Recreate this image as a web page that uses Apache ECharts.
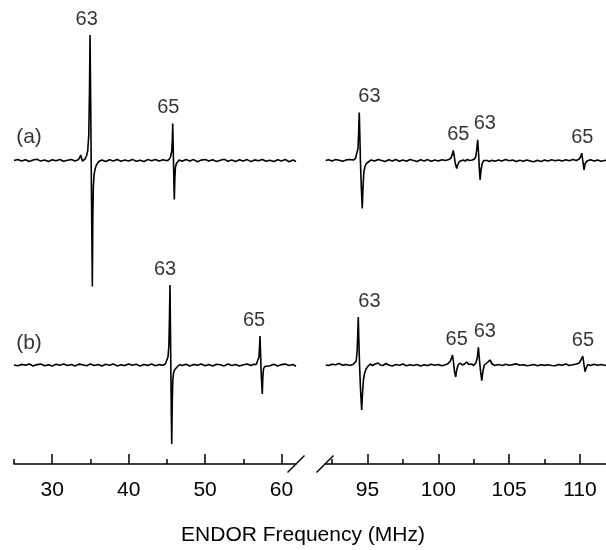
<!DOCTYPE html>
<html>
<head>
<meta charset="utf-8">
<script src="https://cdn.jsdelivr.net/npm/echarts@6/dist/echarts.min.js"></script>
<style>
html,body{margin:0;padding:0;background:#fff;}
#chart{width:606px;height:550px;}
</style>
</head>
<body>
<div id="chart"></div>
<script>
// ---- data (frequency MHz, intensity in arbitrary units; baseline 0) ----
var traceNames = ['(a)', '(b)'];
var leftTicksMajor = [30, 40, 50, 60];
var leftTicksMinor = [25, 35, 45, 55];
var rightTicksMajor = [95, 100, 105, 110];
var rightTicksMinor = [92.5, 97.5, 102.5, 107.5];
var axisTitle = 'ENDOR Frequency (MHz)';

var leftA = [[25.0,0],[25.5,1],[26.0,-0.5],[26.5,0.8],[27.0,-1],[27.5,0.5],[28.0,1.2],[28.5,-0.6],[29.0,0.4],[29.5,-1],[30.0,0.8],[30.5,-0.3],[31.0,1],[31.5,-0.8],[32.0,0.2],[32.5,1],[33.0,-0.5],[33.4,0.8],[33.6,3],[33.73,5.5],[33.85,2],[33.95,-0.5],[34.1,-1],[34.3,1.5],[34.5,5],[34.65,10],[34.78,25],[34.88,70],[34.95,125.5],[35.02,70],[35.1,0],[35.18,-70],[35.25,-126],[35.31,-60],[35.38,-26],[35.48,-14],[35.6,-9],[35.75,-5],[35.9,-3],[36.1,-1],[36.5,0.5],[37.0,-1],[37.5,0.8],[38.0,-0.5],[38.5,1],[39.0,-0.8],[39.5,0.6],[40.0,-0.4],[40.5,1.1],[41.0,-0.7],[41.5,0.3],[42.0,-1],[42.5,0.9],[43.0,-0.2],[43.5,1],[44.0,-0.6],[44.5,0.7],[45.0,-0.3],[45.3,1],[45.5,4],[45.65,10],[45.72,22],[45.77,37],[45.83,15],[45.88,-5],[45.93,-25],[45.98,-39],[46.04,-20],[46.12,-7],[46.25,-3],[46.4,-1],[46.6,0.5],[47.0,-0.8],[47.5,1],[48.0,-0.5],[48.5,0.9],[49.0,-1.2],[49.5,0.4],[50.0,1],[50.5,-0.6],[51.0,0.8],[51.5,-1],[52.0,0.3],[52.5,1.2],[53.0,-0.7],[53.5,0.5],[54.0,-1],[54.5,0.8],[55.0,-0.4],[55.5,0.9],[56.0,-1.1],[56.5,0.6],[57.0,-0.3],[57.5,1],[58.0,-0.8],[58.5,0.2],[59.0,-1],[59.5,0.7],[60.0,-0.5],[60.5,1],[61.0,-1.2],[61.5,0.4],[61.9,-1]];

var leftB = [[25.0,0],[25.5,-0.8],[26.0,0.6],[26.5,-0.3],[27.0,1],[27.5,-1],[28.0,0.4],[28.5,0.9],[29.0,-0.7],[29.5,0.3],[30.0,-1.1],[30.5,0.8],[31.0,-0.2],[31.5,1],[32.0,-0.6],[32.5,0.5],[33.0,-1],[33.5,0.9],[34.0,0.2],[34.5,-0.8],[35.0,1.1],[35.5,-0.4],[36.0,0.6],[36.5,-1],[37.0,0.8],[37.5,-0.2],[38.0,1],[38.5,-0.9],[39.0,0.3],[39.5,-0.6],[40.0,1],[40.5,-0.3],[41.0,0.7],[41.5,-1.1],[42.0,0.5],[42.5,-0.4],[43.0,0.9],[43.5,-0.8],[44.0,0.4],[44.5,-0.2],[44.8,1],[45.0,3],[45.15,8],[45.27,20],[45.35,50],[45.41,80],[45.47,40],[45.52,0],[45.58,-45],[45.64,-79],[45.7,-40],[45.78,-15],[45.88,-8],[46.0,-5],[46.2,-3],[46.4,-1.5],[46.7,0.5],[47.0,-0.6],[47.5,0.8],[48.0,-1],[48.5,0.6],[49.0,-0.3],[49.5,1],[50.0,-0.8],[50.5,0.4],[51.0,-1],[51.5,0.7],[52.0,0.2],[52.5,-0.9],[53.0,1],[53.5,-0.5],[54.0,0.6],[54.5,-1],[55.0,0.3],[55.5,0.9],[56.0,-0.6],[56.4,0.8],[56.7,0.5],[56.9,2],[57.05,8],[57.12,16],[57.19,29],[57.26,12],[57.33,-5],[57.41,-18],[57.49,-29],[57.56,-12],[57.65,-4],[57.8,-1.5],[58.0,0.5],[58.5,-0.8],[59.0,0.7],[59.5,-1],[60.0,0.4],[60.5,0.9],[61.0,-0.6],[61.5,0.5],[61.9,-1.2]];

var rightA = [[92.05,0],[92.25,0.8],[92.5,-0.5],[92.75,1],[93.0,0.2],[93.25,-0.8],[93.5,0.6],[93.75,1],[94.0,0.5],[94.15,2],[94.25,4],[94.33,12],[94.38,30],[94.42,48],[94.46,25],[94.5,0],[94.56,-25],[94.63,-48],[94.68,-28],[94.74,-12],[94.82,-6],[94.92,-3],[95.05,-1.5],[95.25,0.5],[95.5,-0.5],[95.75,1],[96.0,0],[96.25,-1],[96.5,0.8],[96.75,-0.5],[97.0,1],[97.25,-0.7],[97.5,0.6],[97.75,-0.8],[98.0,1],[98.25,0],[98.5,-1],[98.75,0.7],[99.0,-0.4],[99.25,0.9],[99.5,-0.8],[99.75,0.4],[100.0,-0.6],[100.25,0.8],[100.5,0],[100.75,1],[100.9,2.5],[101.0,7],[101.06,10],[101.13,4],[101.2,-3],[101.3,-8],[101.38,-4],[101.48,-1],[101.6,1],[101.75,0.5],[101.9,-0.5],[102.05,1],[102.2,0],[102.4,0.5],[102.55,1.5],[102.65,4],[102.72,12],[102.78,20.7],[102.84,8],[102.89,-6],[102.95,-19.3],[103.02,-9],[103.1,-3],[103.2,0],[103.3,1.5],[103.45,0],[103.6,-1],[103.8,0.3],[104.0,-0.8],[104.25,0.6],[104.5,-0.5],[104.75,1],[105.0,-0.3],[105.25,0.5],[105.5,-1],[105.75,0.2],[106.0,-0.8],[106.25,0.6],[106.5,-0.6],[106.75,-1.2],[107.0,0.3],[107.25,-0.9],[107.5,0.4],[107.75,-0.5],[108.0,0.8],[108.25,-0.3],[108.5,0.5],[108.75,-0.6],[109.0,0.7],[109.25,-0.2],[109.5,1],[109.75,0],[109.95,1.5],[110.05,4],[110.13,7.3],[110.2,0],[110.29,-9.3],[110.37,-3],[110.5,-0.5],[110.75,0.8],[111.0,-0.6],[111.25,0.4],[111.5,-0.8],[111.84,0.3]];

var rightB = [[92.05,0],[92.25,-0.5],[92.5,0.8],[92.75,0.2],[93.0,1.5],[93.25,-0.3],[93.5,0.6],[93.75,-0.5],[94.0,0.8],[94.1,2],[94.2,4],[94.27,14],[94.31,30],[94.35,48],[94.39,25],[94.44,0],[94.51,-25],[94.59,-45],[94.65,-28],[94.72,-14],[94.8,-8],[94.9,-4],[95.05,-1],[95.2,1],[95.35,-0.5],[95.5,0.8],[95.75,2],[95.9,0],[96.1,-0.5],[96.3,1.5],[96.5,0],[96.75,-1],[97.0,0.5],[97.25,-0.3],[97.5,1],[97.75,-0.8],[98.0,0.2],[98.25,-0.5],[98.5,0.6],[98.75,-1],[99.0,0.3],[99.25,-0.6],[99.5,0.8],[99.75,-0.2],[100.0,0.5],[100.25,-0.8],[100.5,0.3],[100.7,1.5],[100.85,4],[100.93,7],[101.0,10],[101.07,3],[101.15,-7],[101.23,-12],[101.3,-5],[101.4,0],[101.55,2],[101.7,0],[101.85,1],[102.0,3],[102.15,0.5],[102.35,1],[102.5,-0.5],[102.65,2],[102.75,7],[102.83,17.7],[102.9,6],[102.98,-6],[103.07,-15.7],[103.15,-6],[103.25,0],[103.35,2],[103.5,3],[103.65,5],[103.8,1],[104.0,-0.5],[104.25,0.6],[104.5,-0.5],[104.75,0.8],[105.0,-0.3],[105.25,0.4],[105.5,1.2],[105.75,-0.3],[106.0,0.2],[106.25,-0.6],[106.5,-0.3],[106.75,0.5],[107.0,-0.8],[107.25,0.2],[107.5,-0.4],[107.75,0.3],[108.0,-0.5],[108.25,-0.8],[108.5,0.4],[108.75,-0.3],[109.0,0.9],[109.25,-0.5],[109.5,0.2],[109.75,1],[109.95,2],[110.07,5],[110.2,9],[110.28,1],[110.36,-6.7],[110.44,-3],[110.55,0.5],[110.75,-0.4],[111.0,0.8],[111.25,-0.3],[111.5,0.5],[111.84,-0.5]];

// peak annotations: peak frequency, label frequency, text
var notesLeftA  = [[34.95, 34.51, '63'], [45.77, 45.19, '65']];
var notesLeftB  = [[45.41, 44.76, '63'], [57.19, 56.41, '65']];
var notesRightA = [[94.42, 95.14, '63'], [101.06, 101.41, '65'], [102.78, 103.28, '63'], [110.13, 110.17, '65']];
var notesRightB = [[94.35, 95.14, '63'], [101.0, 101.30, '65'], [102.83, 103.28, '63'], [110.2, 110.21, '65']];

// ---- layout / style ----
var FONT = 'Liberation Sans, Arial, sans-serif';
var OFFSET_A = 0, OFFSET_B = -204.5;   // vertical stacking of traces
var LABEL_GAP = 16;
var Y_MIN = -303.5, Y_MAX = 160.5;
var LEFT_MIN = 25, LEFT_MAX = 61.9, RIGHT_MIN = 92, RIGHT_MAX = 111.84;

function shift(arr, off) { return arr.map(function (p) { return [p[0], p[1] + off]; }); }
function peakAt(arr, f) {
  var best = arr[0];
  arr.forEach(function (p) { if (Math.abs(p[0] - f) < Math.abs(best[0] - f)) best = p; });
  return best[1];
}
function notes(arr, list, off) {
  return list.map(function (n) {
    return { value: [n[1], off + peakAt(arr, n[0]) + LABEL_GAP], name: n[2] };
  });
}
function lineSeries(data, xi, yi) {
  return {
    type: 'line', xAxisIndex: xi, yAxisIndex: yi, data: data,
    showSymbol: false, symbol: 'none', silent: true, animation: false,
    lineStyle: { color: '#000', width: 1.6 }, z: 3
  };
}
function labelSeries(data, xi, yi, size) {
  return {
    type: 'scatter', xAxisIndex: xi, yAxisIndex: yi, data: data,
    symbol: 'circle', symbolSize: 1, itemStyle: { color: 'rgba(0,0,0,0)' },
    label: { show: true, position: 'inside', color: '#000', fontSize: size, fontFamily: FONT, formatter: '{b}' },
    silent: true, animation: false, z: 5
  };
}
function xAx(grid, min, max, major, isMajor) {
  return {
    type: 'value', gridIndex: grid, min: min, max: max, position: 'bottom',
    axisLine: { show: isMajor, onZero: false, lineStyle: { color: '#000', width: 1.5 } },
    axisTick: { show: true, inside: true, length: isMajor ? 10 : 5, customValues: major,
                lineStyle: { color: '#000', width: 1.5 } },
    axisLabel: { show: isMajor, customValues: major, color: '#000', fontSize: 21, fontFamily: FONT, margin: 16 },
    splitLine: { show: false }
  };
}

var chart = echarts.init(document.getElementById('chart'), null, { renderer: 'canvas' });
var option = {
  animation: false,
  backgroundColor: '#fff',
  title: {
    text: axisTitle, left: 'center', top: 520,
    textStyle: { color: '#000', fontSize: 21, fontWeight: 'normal', fontFamily: FONT }
  },
  grid: [
    { left: 14, width: 282, top: 0, height: 464 },
    { left: 325, right: 0, top: 0, height: 464 }
  ],
  xAxis: [
    xAx(0, LEFT_MIN, LEFT_MAX, leftTicksMajor, true),
    xAx(0, LEFT_MIN, LEFT_MAX, leftTicksMinor, false),
    xAx(1, RIGHT_MIN, RIGHT_MAX, rightTicksMajor, true),
    xAx(1, RIGHT_MIN, RIGHT_MAX, rightTicksMinor, false)
  ],
  yAxis: [
    { type: 'value', gridIndex: 0, min: Y_MIN, max: Y_MAX, show: false },
    { type: 'value', gridIndex: 1, min: Y_MIN, max: Y_MAX, show: false }
  ],
  series: [
    lineSeries(shift(leftA, OFFSET_A), 0, 0),
    lineSeries(shift(leftB, OFFSET_B), 0, 0),
    lineSeries(shift(rightA, OFFSET_A), 2, 1),
    lineSeries(shift(rightB, OFFSET_B), 2, 1),
    labelSeries(notes(leftA, notesLeftA, OFFSET_A).concat(notes(leftB, notesLeftB, OFFSET_B)), 0, 0, 20),
    labelSeries(notes(rightA, notesRightA, OFFSET_A).concat(notes(rightB, notesRightB, OFFSET_B)), 2, 1, 20),
    labelSeries([
      { value: [26.96, OFFSET_A + 23], name: traceNames[0] },
      { value: [26.96, OFFSET_B + 22], name: traceNames[1] }
    ], 0, 0, 21)
  ]
};
chart.setOption(option);

// axis break marks at the inner ends of the two axes
var e1 = chart.convertToPixel({ xAxisIndex: 0 }, LEFT_MAX);
var s2 = chart.convertToPixel({ xAxisIndex: 2 }, RIGHT_MIN);
var yAxisPx = chart.convertToPixel({ yAxisIndex: 0 }, Y_MIN);
function slash(cx) {
  return { type: 'line', shape: { x1: cx - 8.5, y1: yAxisPx + 8.5, x2: cx + 8.5, y2: yAxisPx - 8.5 },
           style: { stroke: '#000', lineWidth: 1.5 }, silent: true };
}
chart.setOption({ graphic: [slash(e1), slash(s2)] });
</script>
</body>
</html>
